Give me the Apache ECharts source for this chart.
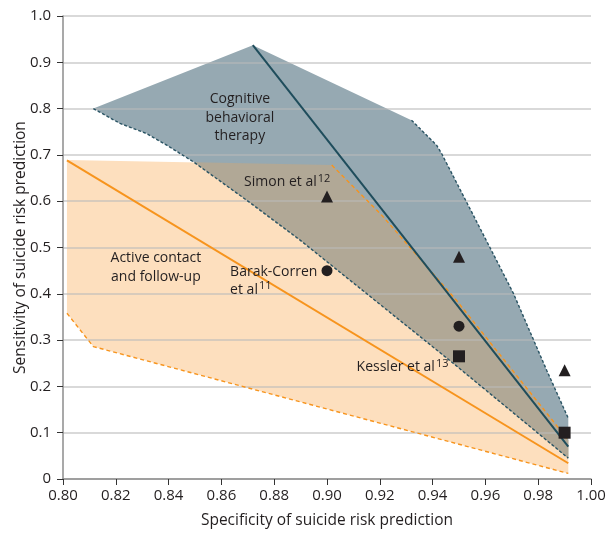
<!DOCTYPE html>
<html><head><meta charset="utf-8">
<script src="https://cdn.jsdelivr.net/npm/echarts@6/dist/echarts.min.js"></script>
<style>html,body{margin:0;padding:0;background:#fff}#c{width:607px;height:533px}</style>
</head><body><div id="c"></div>
<script>
// ---- data ----
const xTicks = [0.80,0.82,0.84,0.86,0.88,0.90,0.92,0.94,0.96,0.98,1.00];
const yTicks = [0,0.1,0.2,0.3,0.4,0.5,0.6,0.7,0.8,0.9,1.0];

// Cognitive behavioral therapy band
const cbtTop   = [[0.8115,0.800],[0.8719,0.937]];
const cbtUpper = [[0.932,0.775],[0.9415,0.721],[0.9434,0.703],[0.9655,0.458],[0.9706,0.401],[0.9832,0.235],[0.9914,0.131]];
const cbtLower = [[0.8115,0.800],[0.8216,0.768],[0.8317,0.746],[0.8393,0.721],[0.8494,0.685],[0.8696,0.602],[0.8898,0.516],[0.9478,0.250],[0.9914,0.045]];
const cbtLine  = [[0.8719,0.937],[0.9914,0.070]];

// Active contact and follow-up band
const acTop   = [[0.8015,0.689],[0.9018,0.678]];
const acUpper = [[0.9018,0.678],[0.9207,0.570],[0.949,0.386],[0.9914,0.084]];
const acLower = [[0.8015,0.358],[0.8115,0.286],[0.9914,0.012]];
const acLine  = [[0.8015,0.688],[0.9914,0.034]];

// overlap of the two bands
const overlap = [[0.8497,0.684],[0.9018,0.678],[0.9207,0.570],[0.949,0.386],[0.9914,0.084],[0.9914,0.045],[0.9478,0.250],[0.8898,0.516],[0.8696,0.602]];

// study points
const simon   = [[0.90,0.61],[0.95,0.48],[0.99,0.235]];   // triangles
const barak   = [[0.90,0.45],[0.95,0.33]];                // circles
const kessler = [[0.95,0.265],[0.99,0.10]];               // squares

// annotations
const annotations = [
  {text:'Cognitive\nbehavioral\ntherapy', at:[0.8670,0.780], align:'center'},
  {text:'Simon et al{s|12}', at:[0.8686,0.641], align:'left'},
  {text:'Barak-Corren\net al{s|11}', at:[0.8633,0.428], align:'left'},
  {text:'Active contact\nand follow-up', at:[0.8352,0.4565], align:'center'},
  {text:'Kessler et al{s|13}', at:[0.9112,0.241], align:'left'}
];

// ---- chart ----
const FONT = 'Open Sans';
const TXT = '#231f20';
const cbtPoly = [].concat(cbtTop, cbtUpper, cbtLower.slice().reverse());
const acPoly  = [].concat([acTop[0]], acUpper, acLower.slice().reverse());

function polySeries(poly, color, z){
  return {type:'custom', z:z, silent:true, data:[poly[0]],
    renderItem:function(params, api){
      return {type:'polygon', shape:{points:poly.map(p=>api.coord(p))}, style:{fill:color}};
    }};
}
function lineSeries(data, color, width, dash, z){
  return {type:'line', z:z, data:data, symbol:'none', silent:true, animation:false,
    lineStyle:{color:color, width:width, type:dash||'solid', opacity:1}};
}
function markerSeries(data, symbol, size){
  return {type:'scatter', z:6, data:data, symbol:symbol, symbolSize:size, silent:true,
    itemStyle:{color:TXT, opacity:1}};
}

const chart = echarts.init(document.getElementById('c'), null, {renderer:'canvas'});
chart.setOption({
  animation:false,
  backgroundColor:'#fff',
  grid:{left:63, right:16, top:16, bottom:54, containLabel:false, outerBoundsMode:'none'},
  xAxis:{type:'value', min:0.80, max:1.00, interval:0.02, z:3,
    name:'Specificity of suicide risk prediction', nameLocation:'middle', nameGap:34, nameMoveOverlap:false,
    nameTextStyle:{fontFamily:FONT, fontSize:15.5, color:TXT},
    axisLine:{lineStyle:{color:'#8c8c8c', width:1.5}},
    axisTick:{show:true, length:6, lineStyle:{color:'#333', width:1}},
    axisLabel:{fontFamily:FONT, fontSize:15, color:TXT, margin:9, formatter:v=>v.toFixed(2)},
    splitLine:{show:false}},
  yAxis:{type:'value', min:0, max:1.0, interval:0.1, z:3,
    name:'Sensitivity of suicide risk prediction', nameLocation:'middle', nameGap:34, nameMoveOverlap:false,
    nameTextStyle:{fontFamily:FONT, fontSize:15.5, color:TXT},
    axisLine:{show:true, lineStyle:{color:'#8c8c8c', width:1.5}},
    axisTick:{show:true, length:6, lineStyle:{color:'#333', width:1}},
    axisLabel:{fontFamily:FONT, fontSize:15, color:TXT, margin:12,
      formatter:v=>v===0?'0':v.toFixed(1)},
    splitLine:{show:true, lineStyle:{color:'rgba(185,185,185,0.55)', width:2}}},
  series:[
    polySeries(acPoly, '#fddfbe', 1),
    polySeries(cbtPoly, '#96a9b2', 1),
    polySeries(overlap, '#b1a896', 1),
    lineSeries(acLower, '#f7941d', 1.4, [4,3], 4),
    lineSeries(acUpper, '#f7941d', 1.4, [4,3], 4),
    lineSeries(cbtLower, '#2a5464', 1.4, [3,2], 4),
    lineSeries(cbtUpper, '#2a5464', 1.4, [3,2], 4),
    lineSeries(acLine, '#f7941d', 2, 'solid', 5),
    lineSeries(cbtLine, '#1f4d5c', 2, 'solid', 5),
    markerSeries(simon, 'triangle', 12),
    markerSeries(barak, 'circle', 11),
    markerSeries(kessler, 'rect', 12),
    {type:'custom', z:7, silent:true, data:annotations.map(a=>a.at),
      renderItem:function(params, api){
        const a = annotations[params.dataIndex];
        const p = api.coord(a.at);
        return {type:'text', x:p[0], y:p[1], style:{
          text:a.text, align:a.align, verticalAlign:'middle',
          fontFamily:FONT, fontSize:14, lineHeight:18.5, fill:TXT,
          rich:{s:{fontFamily:FONT, fontSize:11, fill:TXT, verticalAlign:'top', lineHeight:11, padding:[0,0,0,1]}}
        }};
      }}
  ]
});
</script></body></html>
